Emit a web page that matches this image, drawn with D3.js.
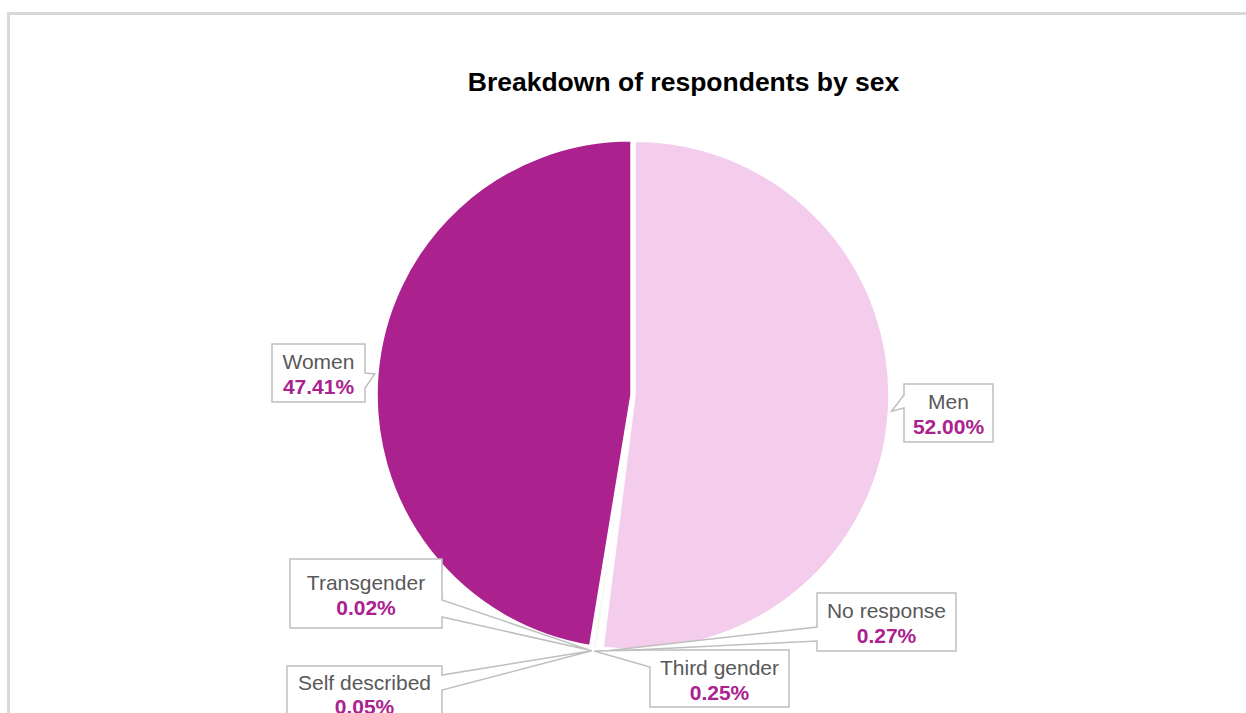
<!DOCTYPE html>
<html>
<head>
<meta charset="utf-8">
<script src="https://cdn.jsdelivr.net/npm/d3@7"></script>
<style>
  body { margin: 0; background: #fff; }
  text { font-family: "Liberation Sans", Arial, sans-serif; }
</style>
</head>
<body>
<div id="chart"></div>
<script>
// data
const categories = ["Men", "No response", "Third gender", "Self described", "Transgender", "Women"];
const shares = [52.00, 0.27, 0.25, 0.05, 0.02, 47.41];
const sliceColors = ["#f4cdec", "#ffffff", "#f3f9ef", "#e4f2d8", "#ffffff", "#ab218e"];

// callout boxes, one per category (layout only)
const labelBoxes = [
  {x0: 904, y0: 384, x1: 993, y1: 442, side: "left",  pa: 395, pb: 408},
  {x0: 817, y0: 593, x1: 956, y1: 651, side: "left",  pa: 627, pb: 641},
  {x0: 650, y0: 650, x1: 789, y1: 707, side: "left",  pa: 650, pb: 667},
  {x0: 287, y0: 666, x1: 442, y1: 726, side: "right", pa: 675, pb: 690},
  {x0: 290, y0: 559, x1: 442, y1: 628, side: "right", pa: 600, pb: 617},
  {x0: 272, y0: 344, x1: 365, y1: 402, side: "right", pa: 373, pb: 388}
];

const width = 1246, height = 713;
const cx = 633, cy = 395, radius = 254, explode = 2;

let svg = d3.select("#chart")
  .append("svg")
    .attr("width", width)
    .attr("height", height);

// chart frame (cut by the window on the right and bottom)
svg.append("rect")
  .attr("x", 8.5).attr("y", 13.5)
  .attr("width", 1400).attr("height", 900)
  .attr("fill", "#fff")
  .attr("stroke", "#d9d9d9")
  .attr("stroke-width", 3);

svg.append("text")
  .attr("x", 683.5).attr("y", 91)
  .attr("text-anchor", "middle")
  .attr("font-size", "26.5px")
  .attr("font-weight", "bold")
  .attr("fill", "#000")
  .text("Breakdown of respondents by sex");

let pie = d3.pie().sort(null).value(function(d) { return d; });
let arcs = pie(shares);

let arc = d3.arc().innerRadius(0).outerRadius(radius);
let tipArc = d3.arc().innerRadius(radius + 3).outerRadius(radius + 3);

function shift(d) {
  let a = (d.startAngle + d.endAngle) / 2;
  return [explode * Math.sin(a), -explode * Math.cos(a)];
}

let g = svg.append("g")
  .attr("transform", "translate(" + cx + "," + cy + ")");

g.selectAll("path.slice")
  .data(arcs)
  .enter().append("path")
    .attr("class", "slice")
    .attr("transform", function(d) { return "translate(" + shift(d) + ")"; })
    .attr("d", arc)
    .attr("fill", function(d, i) { return sliceColors[i]; })
    .attr("stroke", "#fff")
    .attr("stroke-width", 1.5);

// callouts
function calloutPath(b, tip) {
  let pts;
  if (b.side === "right") {
    pts = [[b.x0, b.y0], [b.x1, b.y0], [b.x1, b.pa], tip, [b.x1, b.pb], [b.x1, b.y1], [b.x0, b.y1]];
  } else {
    pts = [[b.x0, b.y0], [b.x1, b.y0], [b.x1, b.y1], [b.x0, b.y1], [b.x0, b.pb], tip, [b.x0, b.pa]];
  }
  return d3.line()(pts) + "Z";
}

let fmt = d3.format(".2f");

let labels = svg.append("g")
  .selectAll("g")
  .data(arcs)
  .enter().append("g");

labels.append("path")
  .attr("d", function(d, i) {
    let c = tipArc.centroid(d), s = shift(d);
    let tip = [cx + c[0] + s[0], cy + c[1] + s[1]];
    return calloutPath(labelBoxes[i], tip);
  })
  .attr("fill", "#fff")
  .attr("stroke", "#bfbfbf")
  .attr("stroke-width", 1.5)
  .attr("stroke-linejoin", "miter");

labels.append("text")
  .attr("x", function(d, i) { return (labelBoxes[i].x0 + labelBoxes[i].x1) / 2; })
  .attr("y", function(d, i) {
    let b = labelBoxes[i];
    return i === 3 ? 690 : (b.y0 + b.y1) / 2 - 4;
  })
  .attr("text-anchor", "middle")
  .attr("font-size", "21px")
  .attr("fill", "#595959")
  .text(function(d, i) { return categories[i]; });

labels.append("text")
  .attr("x", function(d, i) { return (labelBoxes[i].x0 + labelBoxes[i].x1) / 2; })
  .attr("y", function(d, i) {
    let b = labelBoxes[i];
    return i === 3 ? 714 : (b.y0 + b.y1) / 2 + 21;
  })
  .attr("text-anchor", "middle")
  .attr("font-size", "21px")
  .attr("font-weight", "bold")
  .attr("fill", "#ab218e")
  .text(function(d, i) { return fmt(shares[i]) + "%"; });
</script>
</body>
</html>
